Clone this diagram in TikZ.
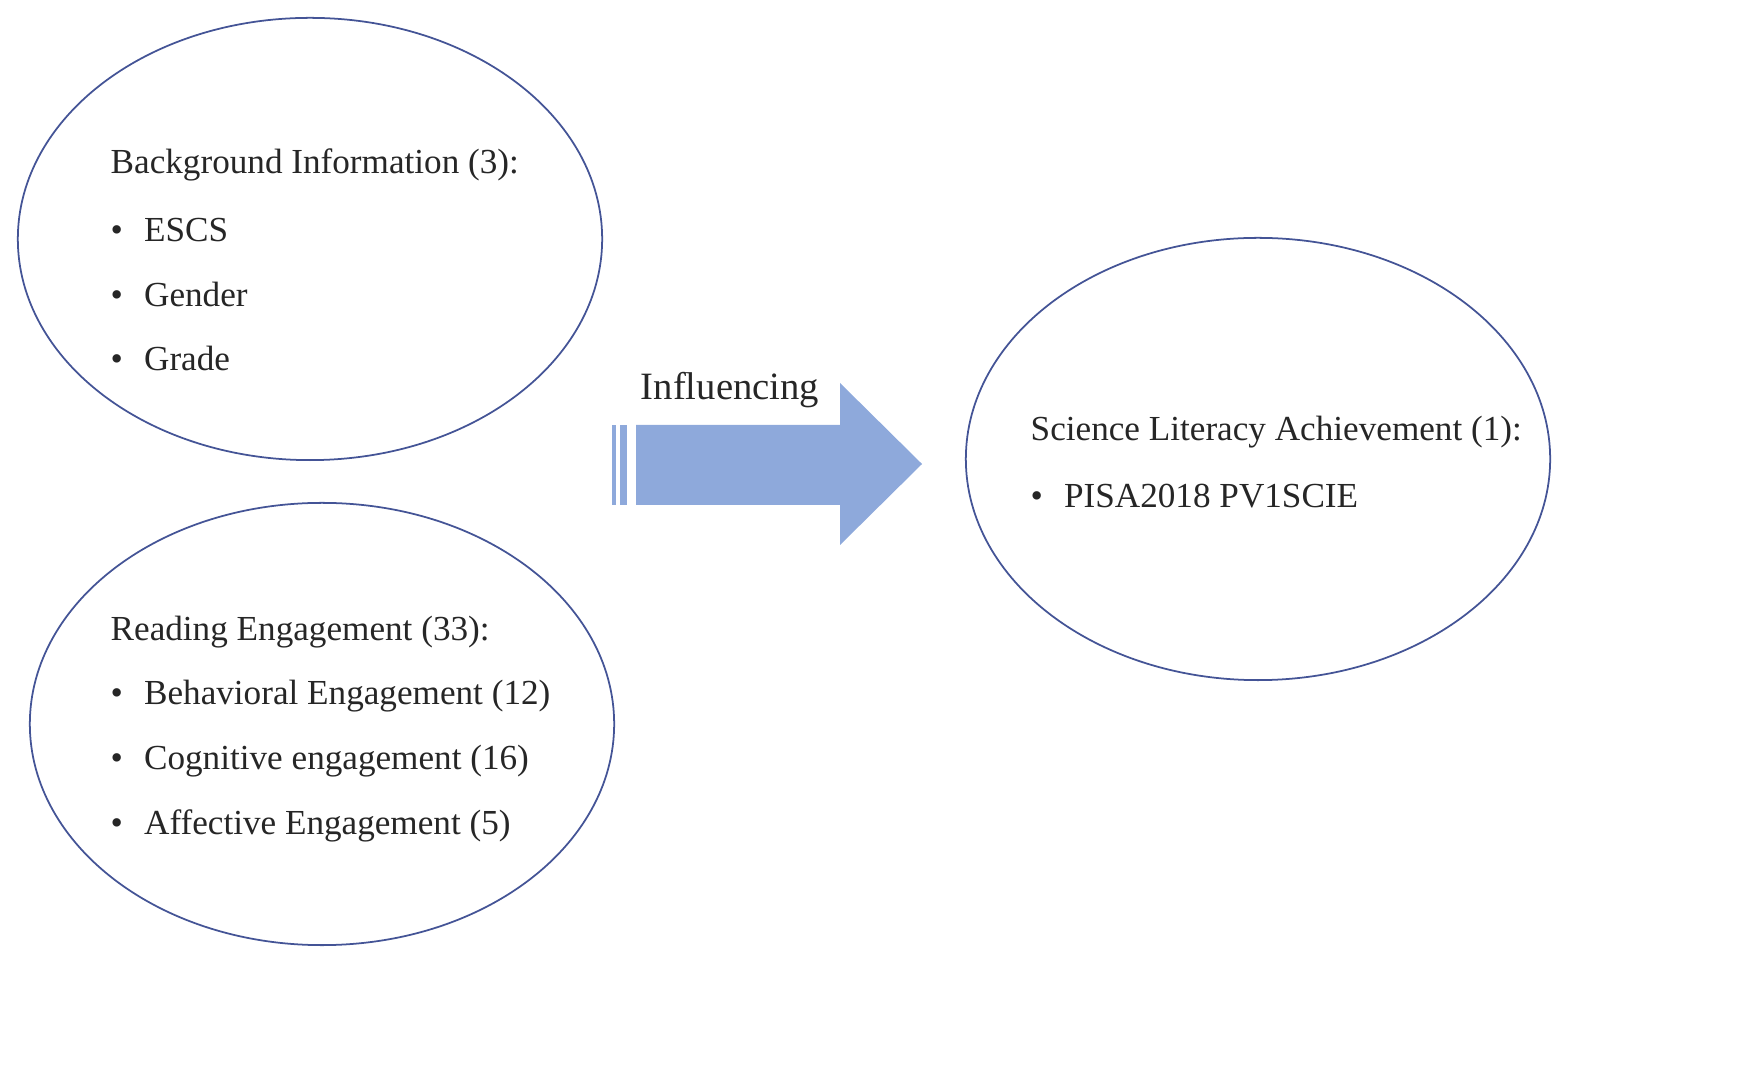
\documentclass[tikz,border=0pt]{standalone}
\usepackage{fontspec}
\setmainfont{Liberation Serif}
\usetikzlibrary{shapes.geometric}
\definecolor{Oval-1}{RGB}{68,84,150}
\definecolor{Arrow-1}{RGB}{142,169,219}
\tikzset{ oval/.style ={draw=Oval-1, ellipse, line width=0.5pt, minimum width=5.84cm, minimum height=4.42cm, inner sep=0pt} }
\tikzset{ item/.style ={anchor=west, inner sep=0pt, font=\fontsize{10}{12}\selectfont, text=black!85} }

\begin{document}
\begin{tikzpicture}[x=0.01cm, y=-0.01cm]
    \useasboundingbox (0,0) rectangle (1758,1080);

    \node[oval] (bg)  at ( 310, 239) {};
    \node[oval] (re)  at ( 322, 724) {};
    \node[oval] (sci) at (1258, 459) {};

    \node[item] (bg_t)  at (110, 165) {Background Information (3):};
    \node[item] (bg_b0) at (110, 230) {\textbullet\hspace{6pt}ESCS};
    \node[item] (bg_b1) at (110, 294) {\textbullet\hspace{6pt}Gender};
    \node[item] (bg_b2) at (110, 358) {\textbullet\hspace{6pt}Grade};

    \node[item] (re_t)  at (110, 632) {Reading Engagement (33):};
    \node[item] (re_b0) at (110, 696) {\textbullet\hspace{6pt}Behavioral Engagement (12)};
    \node[item] (re_b1) at (110, 761) {\textbullet\hspace{6pt}Cognitive engagement (16)};
    \node[item] (re_b2) at (110, 826) {\textbullet\hspace{6pt}Affective Engagement (5)};

    \node[item] (sci_t)  at (1030, 432) {Science Literacy Achievement (1):};
    \node[item] (sci_b0) at (1030, 496) {\textbullet\hspace{6pt}PISA2018 PV1SCIE};

    \fill[Arrow-1] (612,425) rectangle (616,505);
    \fill[Arrow-1] (620,425) rectangle (627,505);
    \fill[Arrow-1] (636,425) -- (840,425) -- (840,383) -- (922,464)
                   -- (840,545) -- (840,505) -- (636,505) -- cycle;
    \node[item, font=\fontsize{11}{13}\selectfont, anchor=center] (infl) at (730, 390) {Influencing};
\end{tikzpicture}
\end{document}
